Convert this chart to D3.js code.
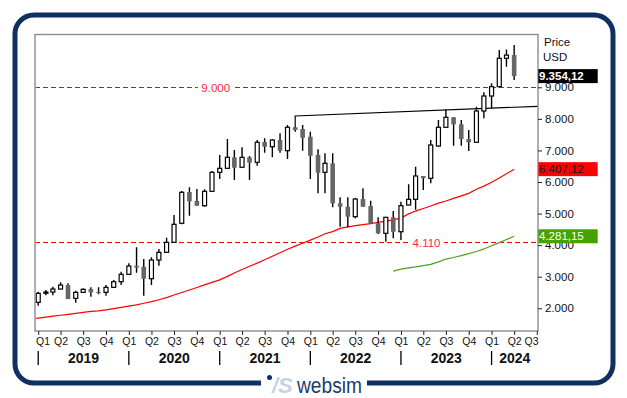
<!DOCTYPE html>
<html>
<head>
<meta charset="utf-8">
<script src="https://cdn.jsdelivr.net/npm/d3@7/dist/d3.min.js"></script>
<style>
  html, body { margin: 0; padding: 0; background: #fff; }
  svg { display: block; font-family: "Liberation Sans", Arial, sans-serif; }
</style>
</head>
<body>
<svg id="chart" width="627" height="398"></svg>
<script>
// monthly candles, Jan 2019 .. Apr 2024
const opens = [
  2189, 2490, 2515, 2610, 2737, 2316, 2505, 2610, 2520, 2505, 2664, 2842,
  3076, 3348, 3317, 2937, 3529, 3773, 4090, 4692, 5683, 5398, 5249, 5705,
  6307, 6434, 6782, 6466, 6782, 6624, 7267, 7118, 7330, 6992, 7733, 7679,
  7435, 6855, 6307, 6593, 5325, 5217, 4901, 5461, 5239, 4692, 4375, 4882,
  4425, 5271, 5452, 6190, 6117, 7141, 7733, 8050, 7828, 7362, 7258, 8249,
  8724, 9019, 9919, 10020
];
const highs = [
  2525, 2578, 2683, 2822, 2791, 2556, 2632, 2664, 2664, 2737, 2895, 3158,
  3424, 3931, 3561, 3614, 3877, 4235, 4954, 5715, 5832, 5778, 5769, 6348,
  6855, 7362, 7014, 7099, 6824, 7330, 7384, 7362, 7543, 7806, 7750, 7806,
  7593, 7036, 6909, 6909, 5515, 5515, 5493, 5800, 5407, 4882, 4882, 5081,
  5376, 5927, 6485, 6190, 7330, 7964, 8303, 8050, 7964, 7647, 8386, 8842,
  9127, 10180, 10200, 10340
];
const lows = [
  2081, 2410, 2410, 2600, 2293, 2176, 2505, 2366, 2442, 2400, 2664, 2737,
  3076, 3127, 2398, 2737, 3348, 3773, 4090, 4660, 4932, 5249, 5217, 5705,
  6095, 6434, 6063, 6466, 6063, 6516, 6928, 6782, 6928, 6729, 7593, 6992,
  6095, 5642, 5642, 5198, 4584, 4565, 4850, 5217, 4692, 4353, 4110, 4216,
  4163, 5271, 5120, 5747, 5959, 7118, 7733, 7150, 7150, 6982, 7258, 8018,
  8335, 9019, 9650, 9231
];
const closes = [
  2474, 2515, 2610, 2737, 2293, 2505, 2600, 2505, 2490, 2664, 2842, 3076,
  3339, 3290, 2937, 3529, 3773, 4090, 4660, 5674, 5388, 5249, 5705, 6307,
  6434, 6782, 6453, 6782, 6612, 7258, 7118, 7330, 6992, 7733, 7647, 7403,
  6833, 6295, 6593, 5325, 5217, 4901, 5461, 5217, 4692, 4375, 4882, 4425,
  5249, 5452, 6190, 6117, 7172, 7733, 8050, 7828, 7362, 7258, 8249, 8724,
  9019, 9919, 10020, 9354.12
];

// red moving average, Dec 2018 .. Apr 2024
const redAvg = [
  1660,
  1690, 1720, 1750, 1780, 1810, 1840, 1870, 1900, 1920, 1950, 1990, 2030,
  2070, 2110, 2160, 2210, 2270, 2340, 2420, 2500, 2580, 2660, 2740, 2820,
  2900, 3010, 3120, 3230, 3330, 3430, 3540, 3650, 3760, 3870, 3970, 4060,
  4160, 4260, 4360, 4430, 4530, 4580, 4620, 4650, 4680, 4720, 4760, 4800,
  4860, 4990, 5080, 5160, 5240, 5330, 5400, 5480, 5560, 5640, 5770, 5870,
  5990, 6130, 6260, 6407.12
];
// green moving average, Dec 2022 .. Apr 2024
const greenAvg = [
  3180, 3240, 3280, 3310, 3350, 3390, 3470, 3560, 3610, 3670, 3730, 3800,
  3880, 3980, 4080, 4180, 4281.15
];

const levels = [9000, 4110];
const levelLabelDates = [new Date(2020, 11, 16), new Date(2023, 3, 14)];

const trendDates = [new Date(2021, 10, 1), new Date(2021, 10, 1), new Date(2024, 6, 6)];
const trendValues = [7733, 8091, 8398];

const yTicks = [2000, 3000, 4000, 5000, 6000, 7000, 8000, 9000];
const years = [2019, 2020, 2021, 2022, 2023, 2024];

const plot = { left: 35, right: 538, top: 34.5, bottom: 331 };
const navy = '#0f3060';

const months = d3.timeMonth.range(new Date(2019, 0, 1), new Date(2024, 4, 1));
const redMonths = d3.timeMonth.range(new Date(2018, 11, 1), new Date(2024, 4, 1));
const greenMonths = d3.timeMonth.range(new Date(2022, 11, 1), new Date(2024, 4, 1));

const de = d3.formatLocale({ decimal: ',', thousands: '.', grouping: [3], currency: ['', ''] });
const fmtTick = de.format(',.0f');
const fmtVal = de.format(',.2f');

const svg = d3.select('#chart');

const x = d3.scaleTime()
  .domain([new Date(2018, 11, 19), new Date(2024, 6, 6)])
  .range([plot.left, plot.right]);
const y = d3.scaleLinear()
  .domain([1281, 10672])
  .range([plot.bottom, plot.top]);

// outer frame, with a gap at the bottom for the logo
const fr = { l: 15, t: 15, r: 613, b: 383, rad: 19 };
const framePath = d3.path();
framePath.moveTo(261, fr.b);
framePath.lineTo(fr.l + fr.rad, fr.b);
framePath.arcTo(fr.l, fr.b, fr.l, fr.b - fr.rad, fr.rad);
framePath.lineTo(fr.l, fr.t + fr.rad);
framePath.arcTo(fr.l, fr.t, fr.l + fr.rad, fr.t, fr.rad);
framePath.lineTo(fr.r - fr.rad, fr.t);
framePath.arcTo(fr.r, fr.t, fr.r, fr.t + fr.rad, fr.rad);
framePath.lineTo(fr.r, fr.b - fr.rad);
framePath.arcTo(fr.r, fr.b, fr.r - fr.rad, fr.b, fr.rad);
framePath.lineTo(367, fr.b);
svg.append('path')
  .attr('d', framePath.toString())
  .attr('fill', 'none')
  .attr('stroke', navy)
  .attr('stroke-width', 5);

// logo
svg.append('circle').attr('cx', 269.5).attr('cy', 377.5).attr('r', 2.5).attr('fill', navy);
svg.append('text')
  .attr('x', 272).attr('y', 392.5)
  .attr('font-size', 22).attr('font-style', 'italic').attr('font-weight', 'bold')
  .attr('fill', '#c6d3e3')
  .text('/S');
svg.append('text')
  .attr('x', 297).attr('y', 392.5)
  .attr('font-size', 22).attr('fill', '#1b3d6e')
  .attr('textLength', 65).attr('lengthAdjust', 'spacingAndGlyphs')
  .text('websim');

// plot box
svg.append('rect')
  .attr('x', plot.left).attr('y', plot.top)
  .attr('width', plot.right - plot.left).attr('height', plot.bottom - plot.top)
  .attr('fill', '#fff')
  .attr('stroke', '#8a8a99')
  .attr('stroke-width', 1.4);

svg.append('clipPath').attr('id', 'clip')
  .append('rect')
  .attr('x', plot.left + 0.7).attr('y', plot.top + 0.7)
  .attr('width', plot.right - plot.left - 1.4).attr('height', plot.bottom - plot.top - 1.4);

const g = svg.append('g').attr('clip-path', 'url(#clip)');

// horizontal levels
levels.forEach((lv, i) => {
  const ly = Math.round(y(lv)) + 0.5;
  g.append('line')
    .attr('x1', plot.left).attr('x2', plot.right)
    .attr('y1', ly).attr('y2', ly)
    .attr('stroke', '#ff0000').attr('stroke-width', 1.3)
    .attr('stroke-dasharray', '5,3')
    .attr('shape-rendering', 'crispEdges');
  const lbl = g.append('text')
    .attr('x', x(levelLabelDates[i])).attr('y', ly)
    .attr('dy', '0.36em')
    .attr('text-anchor', 'middle')
    .attr('font-size', 11.5)
    .attr('fill', '#ff1f45')
    .text(fmtTick(lv));
  const bb = lbl.node().getBBox();
  g.insert('rect', () => lbl.node())
    .attr('x', bb.x - 3.5).attr('y', ly - 3)
    .attr('width', bb.width + 7).attr('height', 6)
    .attr('fill', '#fff');
});

// moving averages
const line = d3.line().x(d => x(d[0])).y(d => y(d[1]));
g.append('path')
  .datum(redMonths.map((m, i) => [m, redAvg[i]]))
  .attr('d', line)
  .attr('fill', 'none').attr('stroke', '#ff0000').attr('stroke-width', 1.2);
g.append('path')
  .datum(greenMonths.map((m, i) => [m, greenAvg[i]]))
  .attr('d', line)
  .attr('fill', 'none').attr('stroke', '#4ca21a').attr('stroke-width', 1.2);

// trend line
g.append('path')
  .datum(trendDates.map((d, i) => [d, trendValues[i]]))
  .attr('d', line)
  .attr('fill', 'none').attr('stroke', '#000').attr('stroke-width', 1.2);

// candles
const candles = months.map((m, i) => ({ date: m, o: opens[i], h: highs[i], l: lows[i], c: closes[i] }));
const cg = g.selectAll('.candle').data(candles).enter().append('g').attr('class', 'candle');
cg.append('line')
  .attr('x1', d => x(d.date)).attr('x2', d => x(d.date))
  .attr('y1', d => y(d.h)).attr('y2', d => y(d.l))
  .attr('stroke', '#000').attr('stroke-width', 1.4);
cg.append('rect')
  .attr('x', d => x(d.date) - (d.c >= d.o ? 2 : 2.3))
  .attr('width', d => d.c >= d.o ? 4 : 4.6)
  .attr('y', d => y(Math.max(d.o, d.c)))
  .attr('height', d => Math.max(1.2, Math.abs(y(d.o) - y(d.c))))
  .attr('fill', d => d.c >= d.o ? '#fff' : '#666')
  .attr('stroke', d => d.c >= d.o ? '#000' : 'none')
  .attr('stroke-width', 1.2);

// right axis
const yAxis = svg.append('g')
  .attr('transform', `translate(${plot.right},0)`)
  .call(d3.axisRight(y).tickValues(yTicks).tickSize(4).tickPadding(3).tickFormat(fmtTick));
yAxis.select('.domain').remove();
yAxis.selectAll('line').attr('stroke', '#222');
yAxis.selectAll('text').attr('font-size', 11.5).attr('fill', '#111').attr('font-family', null);

svg.append('text').attr('x', 544).attr('y', 45.5).attr('font-size', 11.5).attr('fill', '#111').text('Price');
svg.append('text').attr('x', 543).attr('y', 60.7).attr('font-size', 11.5).attr('fill', '#111').text('USD');

// last value boxes (drawn over the tick labels, as in the source)
const lastBoxes = [
  { v: closes[closes.length - 1], bg: '#000', fg: '#fff', bold: true },
  { v: redAvg[redAvg.length - 1], bg: '#ff0000', fg: '#1a1a1a', bold: false },
  { v: greenAvg[greenAvg.length - 1], bg: '#44a300', fg: '#fff', bold: false }
];
lastBoxes.forEach(b => {
  svg.append('rect')
    .attr('x', 538.3).attr('y', y(b.v) - 7)
    .attr('width', 59.4).attr('height', 14)
    .attr('fill', b.bg);
  svg.append('text')
    .attr('x', 539).attr('y', y(b.v)).attr('dy', '0.36em')
    .attr('font-size', 11.5)
    .attr('font-weight', b.bold ? 'bold' : 'normal')
    .attr('fill', b.fg)
    .text(fmtVal(b.v));
});

// bottom axis: quarters
const quarters = d3.timeMonth.every(3).range(new Date(2019, 0, 1), new Date(2024, 7, 1));
const xAxis = svg.append('g')
  .attr('transform', `translate(0,${plot.bottom})`)
  .call(d3.axisBottom(x).tickValues(quarters).tickSize(4).tickPadding(3)
    .tickFormat(d => 'Q' + (Math.floor(d.getMonth() / 3) + 1)));
xAxis.select('.domain').remove();
xAxis.selectAll('line').attr('stroke', '#222');
xAxis.selectAll('text').attr('font-size', 10.5).attr('fill', '#111').attr('font-family', null);
// keep the end labels inside the plot width
xAxis.selectAll('.tick').each(function (d) {
  const t = d3.select(this).select('text');
  const w = t.node().getComputedTextLength();
  const cx = x(d);
  let shift = 0;
  if (cx - w / 2 < plot.left) shift = plot.left + 0.5 - (cx - w / 2);
  if (cx + w / 2 > plot.right) shift = plot.right - (cx + w / 2);
  t.attr('x', shift);
});

// year separators and labels
years.forEach(yr => {
  const start = x(new Date(yr, 0, 1));
  const end = Math.min(plot.right, x(new Date(yr + 1, 0, 1)));
  svg.append('line')
    .attr('x1', start).attr('x2', start)
    .attr('y1', 351).attr('y2', 365)
    .attr('stroke', '#000').attr('stroke-width', 1.3);
  svg.append('text')
    .attr('x', (Math.max(plot.left, start) + end) / 2).attr('y', 362.5)
    .attr('text-anchor', 'middle')
    .attr('font-size', 14).attr('font-weight', 'bold').attr('fill', '#111')
    .text(yr);
});
</script>
</body>
</html>
